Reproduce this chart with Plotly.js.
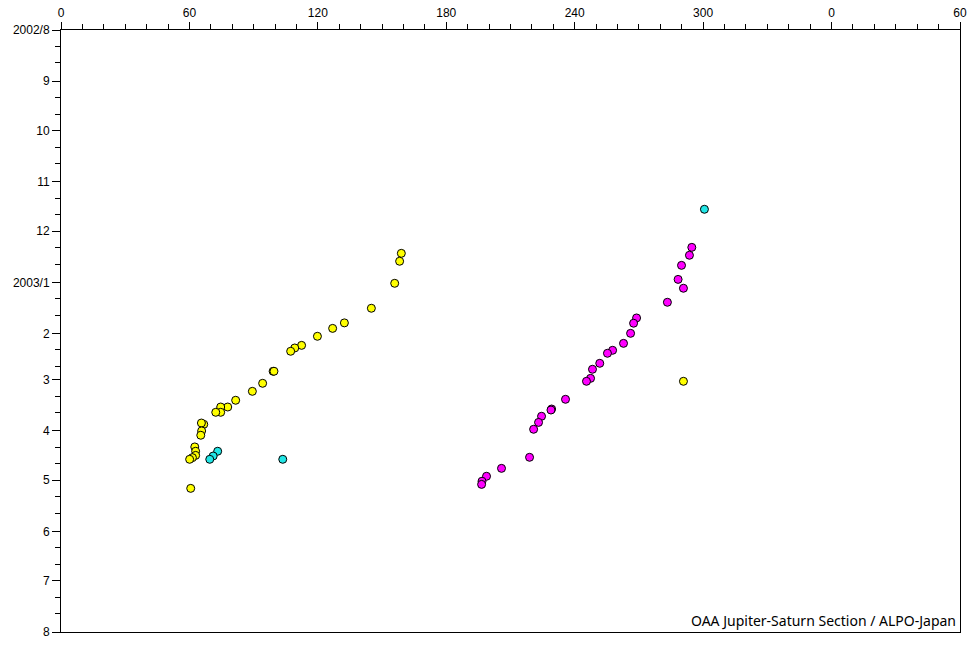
<!DOCTYPE html>
<html>
<head>
<meta charset="utf-8">
<script src="https://cdn.plot.ly/plotly-3.0.1.min.js"></script>
<style>html,body{margin:0;padding:0;background:#fff;}#chart{width:980px;height:650px;}</style>
</head>
<body>
<div id="chart"></div>
<script>
// Longitude axis ticks (System II longitude, wrapped)
const lonTickVals = [0, 60, 120, 180, 240, 300, 360, 420];
const lonTickText = ["0", "60", "120", "180", "240", "300", "0", "60"];

// Date axis ticks
const monthTickVals = ["2002-08-01","2002-09-01","2002-10-01","2002-11-01","2002-12-01","2003-01-01",
  "2003-02-01","2003-03-01","2003-04-01","2003-05-01","2003-06-01","2003-07-01","2003-08-01"];
const monthTickText = ["2002/8","9","10","11","12","2003/1","2","3","4","5","6","7","8"];

// Yellow spots
const yellowLon = [159.0,158.2,155.9,145.0,132.4,126.9,119.8,112.4,109.2,107.3,99.1,99.5,94.2,89.4,81.6,77.9,74.6,74.6,72.3,66.7,65.6,65.7,65.3,62.5,62.9,62.9,61.4,60.1,60.6,290.8];
const yellowDate = ["2002-12-14 10:00","2002-12-19 05:00","2003-01-01 14:00","2003-01-16 17:00","2003-01-25 14:00",
  "2003-01-28 22:00","2003-02-02 17:00","2003-02-08 05:00","2003-02-09 19:00","2003-02-11 19:00",
  "2003-02-23 22:00","2003-02-23 22:00","2003-03-03 05:00","2003-03-08 02:00","2003-03-13 12:00",
  "2003-03-17 14:00","2003-03-17 14:00","2003-03-20 19:00","2003-03-20 19:00","2003-03-28 02:00",
  "2003-03-27 07:00","2003-04-01 02:00","2003-04-03 17:00","2003-04-10 19:00","2003-04-13 10:00",
  "2003-04-15 22:00","2003-04-17 07:00","2003-04-18 07:00","2003-05-05 22:00","2003-03-02 00:00"];

// Cyan spots
const cyanLon = [73.2,71.1,69.5,103.6,300.6];
const cyanDate = ["2003-04-13 10:00","2003-04-16 07:00","2003-04-18 07:00","2003-04-18 07:00","2002-11-17 17:00"];

// Magenta spots
const magentaLon = [294.7,293.6,289.9,288.3,290.8,283.3,268.9,267.5,266.1,262.8,257.7,255.3,251.7,248.3,247.4,245.5,
  235.7,229.2,228.9,224.5,223.1,220.8,218.9,205.8,198.8,196.7,196.5];
const magentaDate = ["2002-12-10 19:00","2002-12-15 14:00","2002-12-21 17:00","2002-12-30 05:00","2003-01-04 14:00",
  "2003-01-13 02:00","2003-01-22 14:00","2003-01-25 19:00","2003-01-31 22:00","2003-02-07 00:00",
  "2003-02-11 05:00","2003-02-13 00:00","2003-02-19 02:00","2003-02-22 17:00","2003-02-28 05:00",
  "2003-03-02 00:00","2003-03-12 22:00","2003-03-18 19:00","2003-03-19 10:00","2003-03-23 05:00",
  "2003-03-26 22:00","2003-03-31 02:00","2003-04-17 02:00","2003-04-23 19:00","2003-04-28 14:00",
  "2003-05-01 14:00","2003-05-03 12:00"];

const creditText = "OAA Jupiter-Saturn Section / ALPO-Japan";

// minor ticks on the 11th and 21st of each month
const minorDates = [];
monthTickVals.slice(0, -1).forEach(m => {
  const ym = m.slice(0, 8);
  minorDates.push(ym + "11", ym + "21");
});

function spotTrace(lon, dates, color) {
  return {
    type: "scatter", mode: "markers", x: lon, y: dates,
    marker: {size: 8, color: color, line: {color: "#000", width: 1}},
    hoverinfo: "x+y", showlegend: false
  };
}

const data = [
  spotTrace(yellowLon, yellowDate, "#FFFF00"),
  spotTrace(cyanLon, cyanDate, "#22E6E6"),
  spotTrace(magentaLon, magentaDate, "#FF00FF")
];

const tickFont = {family: "Liberation Sans Narrow, Liberation Sans, sans-serif", size: 12, color: "#000"};

const layout = {
  width: 980, height: 650,
  margin: {l: 61, r: 20, t: 30, b: 18, pad: 0},
  paper_bgcolor: "#fff", plot_bgcolor: "#fff",
  xaxis: {
    side: "top", range: [0, 420], type: "linear",
    tickmode: "array", tickvals: lonTickVals, ticktext: lonTickText,
    ticks: "outside", ticklen: 7, tickwidth: 1, tickcolor: "#000",
    minor: {tickmode: "linear", tick0: 0, dtick: 10, ticks: "outside", ticklen: 5, tickwidth: 1, tickcolor: "#000", showgrid: false},
    showline: true, linecolor: "#000", linewidth: 1, mirror: true,
    showgrid: false, zeroline: false, tickfont: tickFont, fixedrange: true
  },
  yaxis: {
    type: "date", range: ["2003-08-01", "2002-08-01"],
    tickmode: "array", tickvals: monthTickVals, ticktext: monthTickText,
    ticks: "outside", ticklen: 8, tickwidth: 1, tickcolor: "#000",
    minor: {tickmode: "array", tickvals: minorDates, ticks: "outside", ticklen: 5, tickwidth: 1, tickcolor: "#000", showgrid: false},
    showline: true, linecolor: "#000", linewidth: 1, mirror: true,
    showgrid: false, zeroline: false, tickfont: tickFont, fixedrange: true
  },
  annotations: [{
    text: creditText, xref: "paper", yref: "paper", x: 0.998, y: 0.0,
    xanchor: "right", yanchor: "bottom", showarrow: false,
    font: {family: "Noto Sans, DejaVu Sans, sans-serif", size: 14, color: "#000"}
  }]
};

Plotly.newPlot("chart", data, layout, {displayModeBar: false, staticPlot: true});
</script>
</body>
</html>
